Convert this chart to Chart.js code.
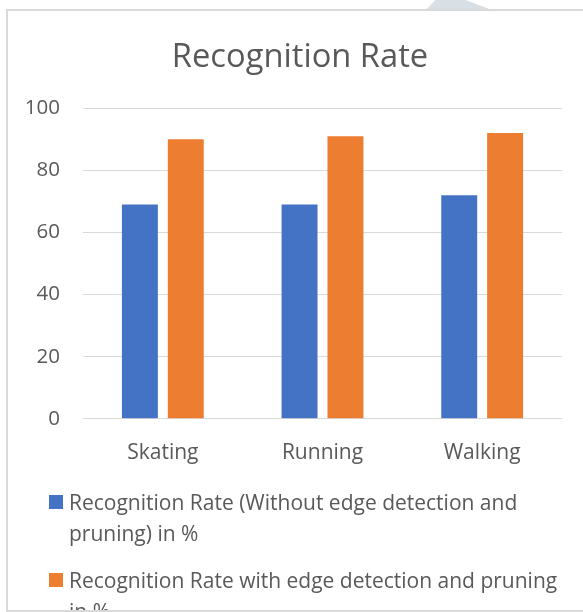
<!DOCTYPE html>
<html>
<head>
<meta charset="utf-8">
<script src="https://cdn.jsdelivr.net/npm/chart.js@4.4.1/dist/chart.umd.min.js"></script>
<style>
  html, body { margin: 0; padding: 0; background: #fff; overflow: hidden; }
  body { width: 583px; height: 612px; position: relative; font-family: "Open Sans", sans-serif; }
  #mark { position: absolute; left: 426px; top: 0; width: 66px; height: 10px; background: #d8e0e5;
          clip-path: polygon(0 100%, 14% 0, 60% 0, 100% 100%); }
  #frame { position: absolute; left: 6px; top: 9px; width: 620px; height: 599px;
           border: 2px solid #d9d9d9; overflow: hidden; background: #fff; }
  #chartBox { position: absolute; left: 0; top: 0; width: 573px; height: 477px; }
  #legend { position: absolute; left: 41px; top: 476px; color: #595959; font-size: 21px; line-height: 31px; }
  #legend .item { display: flex; align-items: flex-start; margin-bottom: 16px; }
  #legend .box { width: 14px; height: 14px; margin-top: 8px; margin-right: 6px; flex: none; }
  #legend .txt { width: 505px; }
</style>
</head>
<body>
<div id="mark"></div>
<div id="frame">
  <div id="chartBox"><canvas id="chart"></canvas></div>
  <div id="legend"></div>
</div>
<script>
const categories = ['Skating', 'Running', 'Walking'];
const seriesNames = [
  'Recognition Rate (Without edge detection and pruning) in %',
  'Recognition Rate with edge detection and pruning in %'
];
const withoutEdge = [69, 69, 72];
const withEdge = [90, 91, 92];
const seriesColors = ['#4472c4', '#ed7d31'];
const yTicks = [0, 20, 40, 60, 80, 100];

const textColor = '#595959';
const gridColor = '#d9d9d9';

// legend in html so long names can wrap
const htmlLegend = {
  id: 'htmlLegend',
  afterUpdate(chart) {
    const box = document.getElementById('legend');
    box.innerHTML = '';
    const items = chart.options.plugins.legend.labels.generateLabels(chart);
    items.forEach(function(it) {
      const row = document.createElement('div');
      row.className = 'item';
      const sw = document.createElement('span');
      sw.className = 'box';
      sw.style.background = it.fillStyle;
      const tx = document.createElement('span');
      tx.className = 'txt';
      tx.textContent = it.text;
      row.appendChild(sw);
      row.appendChild(tx);
      box.appendChild(row);
    });
  }
};

const ctx = document.getElementById('chart').getContext('2d');

new Chart(ctx, {
  type: 'bar',
  data: {
    labels: categories,
    datasets: [
      {label: seriesNames[0], data: withoutEdge, backgroundColor: seriesColors[0]},
      {label: seriesNames[1], data: withEdge, backgroundColor: seriesColors[1]}
    ]
  },
  options: {
    responsive: true,
    maintainAspectRatio: false,
    animation: false,
    categoryPercentage: 0.575,
    barPercentage: 0.783,
    layout: {padding: {left: 17, right: 6, top: 0, bottom: 0}},
    plugins: {
      legend: {display: false},
      tooltip: {enabled: false},
      title: {
        display: true,
        text: 'Recognition Rate',
        color: textColor,
        font: {family: 'Open Sans', size: 32.7, weight: 'normal'},
        padding: {top: 27, bottom: 31}
      }
    },
    scales: {
      x: {
        grid: {display: false, drawTicks: false},
        border: {display: false},
        ticks: {color: textColor, font: {family: 'Open Sans', size: 21}, padding: 22}
      },
      y: {
        min: 0,
        max: 100,
        afterBuildTicks: function(scale) {
          scale.ticks = yTicks.map(v => ({value: v}));
        },
        afterFit: function(scale) { scale.width = 58; },
        grid: {color: gridColor, lineWidth: 1, drawTicks: false},
        border: {display: false},
        ticks: {color: textColor, font: {family: 'Open Sans', size: 20.5}, padding: 23}
      },
      // empty right axis, only keeps the plot off the right edge
      yR: {
        position: 'right',
        afterFit: function(scale) { scale.width = 13; },
        grid: {display: false, drawTicks: false},
        border: {display: false},
        ticks: {display: false}
      }
    }
  },
  plugins: [htmlLegend]
});
</script>
</body>
</html>
